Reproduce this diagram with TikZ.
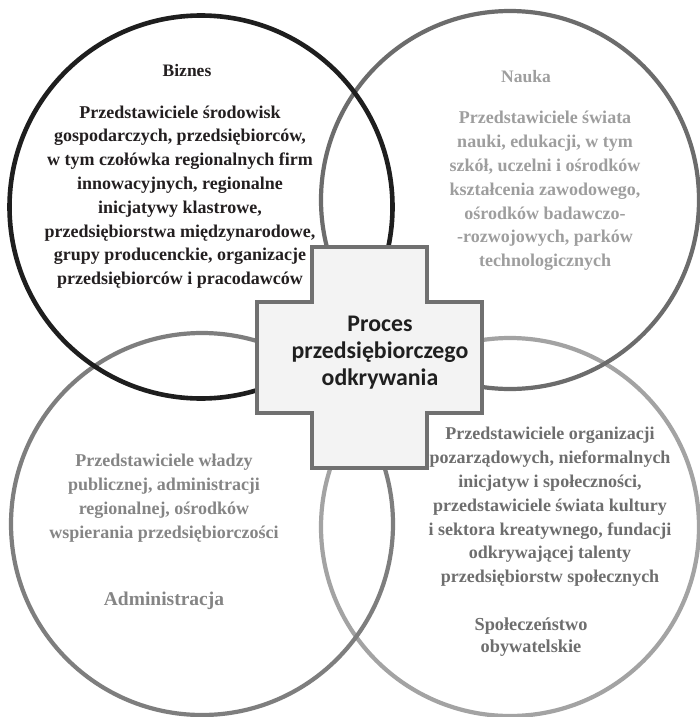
\documentclass[tikz,border=0pt]{standalone}
\usepackage{fontspec}
\setmainfont{Liberation Serif}
\newfontfamily\crossfont{Carlito}
\definecolor{cBiz}{HTML}{1E1E1E}
\definecolor{cNau}{HTML}{6C6C6C}
\definecolor{cAdm}{HTML}{7E7E7E}
\definecolor{cSpo}{HTML}{A3A3A3}
\definecolor{tBiz}{HTML}{231F20}
\definecolor{tNau}{HTML}{9E9E9E}
\definecolor{tAdm}{HTML}{858585}
\definecolor{tSpo}{HTML}{6E6E6E}
\definecolor{crossfill}{HTML}{F3F3F3}
\definecolor{crossline}{HTML}{707070}
\begin{document}
\begin{tikzpicture}[x=1pt,y=-1pt,
  ring/.style={circle, draw, line width=4.2pt, minimum size=#1, inner sep=0pt},
  body/.style={align=center, inner sep=0pt, font=\bfseries\fontsize{18}{23.8}\selectfont},
  head/.style={align=center, inner sep=0pt, font=\bfseries\fontsize{17.5}{21}\selectfont},
  bighead/.style={align=center, inner sep=0pt, font=\bfseries\fontsize{19.5}{22.5}\selectfont},
  spohead/.style={align=center, inner sep=0pt, font=\bfseries\fontsize{18.3}{22.5}\selectfont},
  crosstext/.style={align=center, inner sep=0pt, font=\crossfont\bfseries\fontsize{23.8}{27}\selectfont}]
\useasboundingbox (0,0) rectangle (700,717);
\fill[white] (0,0) rectangle (700,717);

\node[ring=378pt, draw=cSpo] (spo) at (510,527) {};
\node[ring=382pt, draw=cAdm] (adm) at (202,524) {};
\node[ring=378pt, draw=cNau] (nau) at (510,200) {};
\node[ring=383pt, draw=cBiz, line width=4.6pt] (biz) at (201,207) {};

\draw[line width=4pt, draw=crossline, fill=crossfill, line join=miter]
  (312,247) -- (427,247) -- (427,302) -- (482,302) -- (482,413) -- (427,413)
  -- (427,468) -- (312,468) -- (312,413) -- (257,413) -- (257,302) -- (312,302) -- cycle;
\node[crosstext, text=black!88] (proc) at (380,353) {Proces\\przedsiębiorczego\\odkrywania};

\node[head, text=tBiz] (bizh) at (187,71) {Biznes};
\node[body, text=tBiz] (bizb) at (180,197) {Przedstawiciele środowisk\\gospodarczych, przedsiębiorców,\\w tym czołówka regionalnych firm\\innowacyjnych, regionalne\\inicjatywy klastrowe,\\przedsiębiorstwa międzynarodowe,\\grupy producenckie, organizacje\\przedsiębiorców i pracodawców};

\node[head, text=tNau] (nauh) at (526,77) {Nauka};
\node[body, text=tNau] (naub) at (545,191) {Przedstawiciele świata\\nauki, edukacji, w tym\\szkół, uczelni i ośrodków\\kształcenia zawodowego,\\ośrodków badawczo-\\-rozwojowych, parków\\technologicznych};

\node[body, text=tAdm] (admb) at (164,498) {Przedstawiciele władzy\\publicznej, administracji\\regionalnej, ośrodków\\wspierania przedsiębiorczości};
\node[bighead, text=tAdm] (admh) at (164,601) {Administracja};

\node[body, text=tSpo] (spob) at (550,507) {Przedstawiciele organizacji\\pozarządowych, nieformalnych\\inicjatyw i społeczności,\\przedstawiciele świata kultury\\i sektora kreatywnego, fundacji\\odkrywającej talenty\\przedsiębiorstw społecznych};
\node[spohead, text=tSpo] (spoh) at (531,637) {Społeczeństwo\\obywatelskie};
\end{tikzpicture}
\end{document}
